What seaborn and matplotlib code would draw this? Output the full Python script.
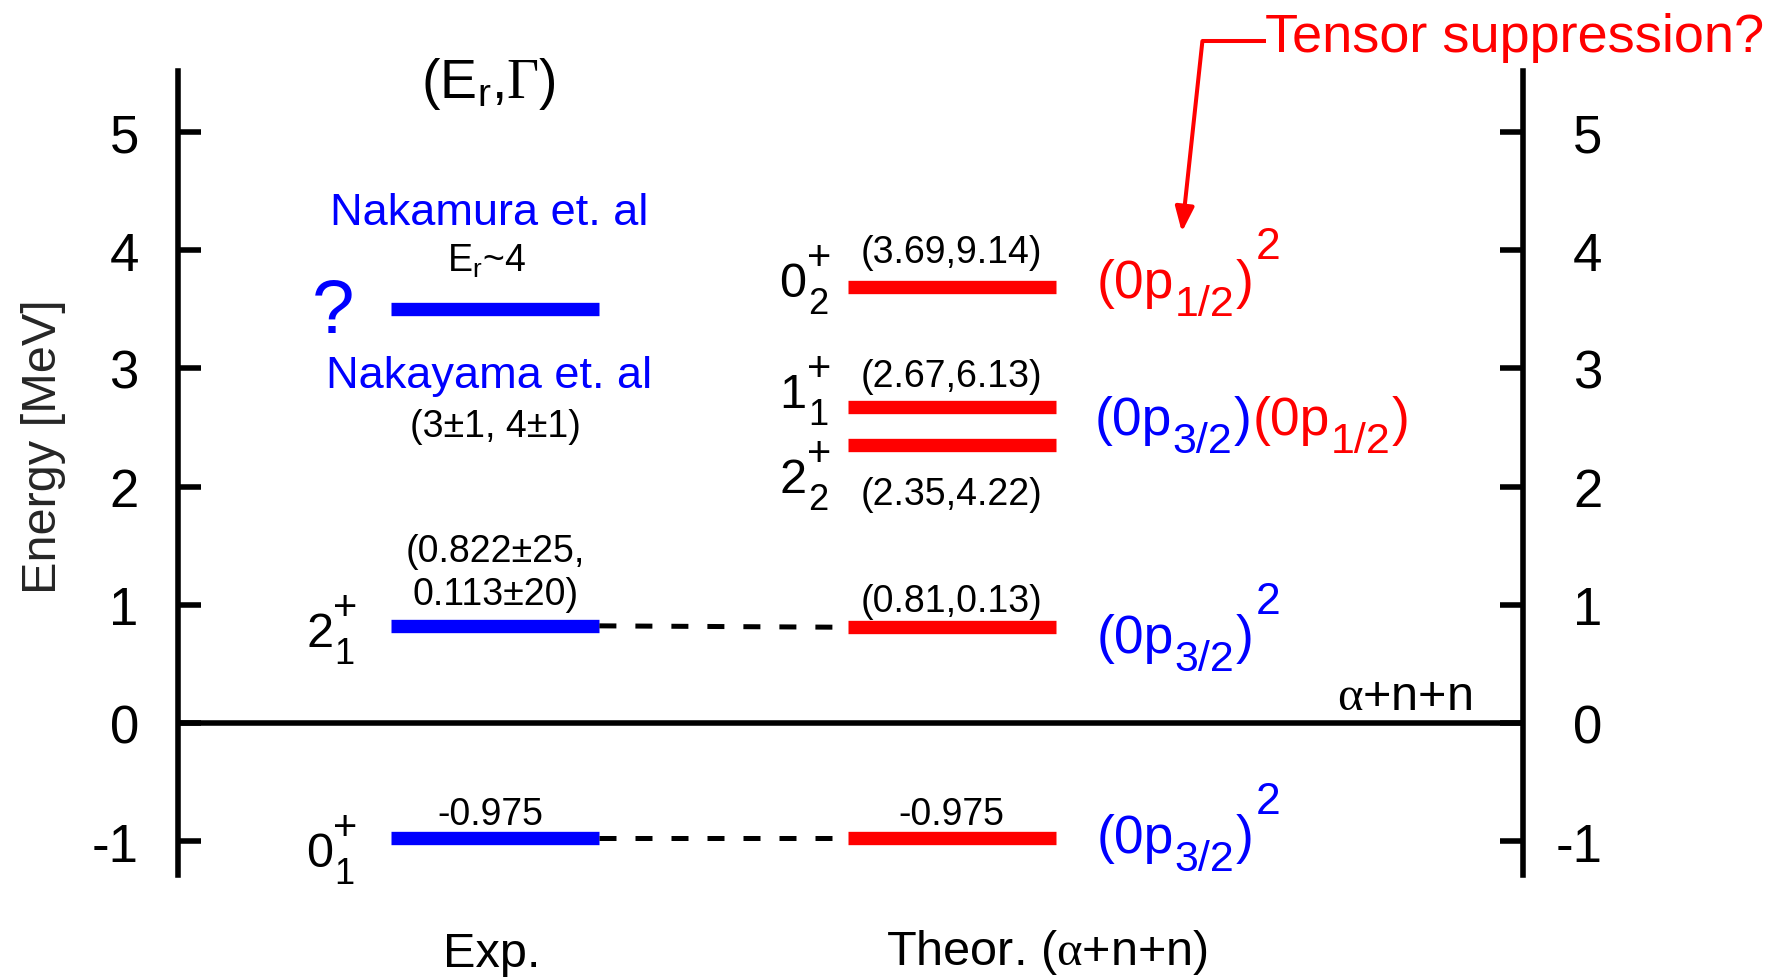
import numpy as np
import pandas as pd
import matplotlib
matplotlib.use("Agg")
import matplotlib.pyplot as plt
import seaborn as sns

# ---------------- data ----------------
exp_energies = [-0.975, 0.822, 3.5]
exp_spins = [("0", "1"), ("2", "1"), None]
exp_value_labels = ["-0.975", "(0.822±25,", "0.113±20)"]

theo_energies = [-0.975, 0.81, 2.35, 2.67, 3.69]
theo_widths = [None, 0.13, 4.22, 6.13, 9.14]
theo_spins = [None, None, ("2", "2"), ("1", "1"), ("0", "2")]

connect_pairs = [(0, 0), (1, 1)]  # exp index -> theory index

yticks = [-1, 0, 1, 2, 3, 4, 5]
ytick_labels = ["-1", "0", "1", "2", "3", "4", "5"]

# ---------------- style ----------------
sns.set_theme(style="white")
plt.rcParams["font.family"] = ["Liberation Sans", "DejaVu Sans"]
plt.rcParams.update({
    "mathtext.fontset": "custom",
    "mathtext.rm": "Liberation Sans",
    "mathtext.it": "Liberation Sans:italic",
    "mathtext.bf": "Liberation Sans:bold",
    "mathtext.sf": "Liberation Sans",
    "mathtext.cal": "Liberation Serif",
    "mathtext.default": "regular",
    "axes.unicode_minus": False,
})

BLUE = "#0000ff"
RED = "#ff0000"
EXP_X, THEO_X, HALF = 0.0, 1.0, 0.228
XLIM = (-0.695, 2.253)
YLIM = (-1.286, 5.52)

fig = plt.figure(figsize=(17.82, 9.78), dpi=100)
ax = fig.add_axes([0.1001, 0.1043, 0.7546, 0.8225])

# ---------------- level bars ----------------
rows = []
for i, E in enumerate(exp_energies):
    for x in (EXP_X - HALF, EXP_X + HALF):
        rows.append(dict(x=x, E=E, lvl=f"exp{i}", side="Exp."))
for i, E in enumerate(theo_energies):
    for x in (THEO_X - HALF, THEO_X + HALF):
        rows.append(dict(x=x, E=E, lvl=f"th{i}", side="Theor."))
levels = pd.DataFrame(rows)

sns.lineplot(data=levels, x="x", y="E", hue="side", units="lvl",
             estimator=None, sort=False, legend=False,
             palette={"Exp.": BLUE, "Theor.": RED},
             lw=9.6, solid_capstyle="butt", ax=ax)

# dashed connectors
crow = []
for k, (i, j) in enumerate(connect_pairs):
    crow.append(dict(x=EXP_X + HALF, E=exp_energies[i], pair=k))
    crow.append(dict(x=THEO_X - HALF, E=theo_energies[j], pair=k))
conn = pd.DataFrame(crow)
sns.lineplot(data=conn, x="x", y="E", units="pair", estimator=None, sort=False,
             color="black", lw=3.6, linestyle=(0, (3.4, 3.8)),
             dash_capstyle="butt", legend=False, ax=ax)

# threshold line
ax.axhline(0, color="black", lw=4.0, zorder=1)

# ---------------- axes ----------------
ax.set_xlim(*XLIM)
ax.set_ylim(*YLIM)
ax.set_xlabel("")
ax.set_ylabel("")
ax.set_xticks([])
for s in ("top", "bottom", "right"):
    ax.spines[s].set_visible(False)
ax.spines["left"].set_linewidth(4)
ax.spines["left"].set_color("black")
ax.set_yticks(yticks)
ax.set_yticklabels(ytick_labels)
ax.tick_params(axis="y", direction="in", length=16.5, width=4, colors="black",
               labelsize=38, pad=28.5, left=True, right=False,
               labelleft=True, labelright=False)

ax2 = ax.twinx()
ax2.set_ylim(*YLIM)
ax2.set_yticks(yticks)
ax2.set_yticklabels(ytick_labels)
for s in ("top", "bottom", "left"):
    ax2.spines[s].set_visible(False)
ax2.spines["right"].set_linewidth(4)
ax2.spines["right"].set_color("black")
ax2.tick_params(axis="y", direction="in", length=16.5, width=4, colors="black",
                labelsize=38, pad=57)
for lab in ax2.get_yticklabels():
    lab.set_horizontalalignment("right")
ax2.set_xticks([])

fig.text(0.0242, 0.543, "Energy [MeV]", rotation=90, fontsize=35,
         ha="center", va="center")


# ---------------- annotations ----------------
def txt(x, y, s, size, color="black", ha="center", va="baseline", **kw):
    return ax.text(x, y, s, fontsize=size, color=color, ha=ha, va=va,
                   clip_on=False, **kw)


def compose(x, y, segs):
    """segs: list of (text, size, dx_pt, dy_pt, color, anchor_index)."""
    arts = []
    for k, (s, size, dx, dy, color, anc) in enumerate(segs):
        if k == 0:
            a = ax.text(x, y, s, fontsize=size, color=color, ha="left",
                        va="baseline", clip_on=False)
        else:
            a = ax.annotate(s, xy=(1, y), xycoords=(arts[anc], "data"),
                            xytext=(dx, dy), textcoords="offset points",
                            fontsize=size, color=color, ha="left",
                            va="baseline", annotation_clip=False)
        arts.append(a)
    return arts


def spin(x, y, main, sub):
    compose(x, y, [(main, 35, 0, 0, "black", 0),
                   (sub, 26, 1.0, -12.5, "black", 0),
                   ("+", 30, 0.0, 19.5, "black", 0)])


def config(x, y, parts, sup=None):
    segs = []
    for frac, color in parts:
        segs.append(("(0p", 38.5, 1.0, 0, color, len(segs) - 1 if segs else 0))
        segs.append((frac, 31, 0.3, -13.0, color, len(segs) - 1))
        segs.append((")", 38.5, 0.8, 0, color, len(segs) - 1))
    if sup is not None:
        segs.append((sup[0], 32, 1.5, 28.0, sup[1], len(segs) - 1))
    compose(x, y, segs)


txt(-0.015, 5.296, r"$(E_r{,}\mathcal{\Gamma})$", 40)
txt(-0.014, 4.222, "Nakamura et. al", 32.5, BLUE)
txt(-0.02, 3.824, r"$E_r$~4", 27)
txt(-0.356, 3.308, "?", 55, BLUE)
txt(-0.014, 2.843, "Nakayama et. al", 32.5, BLUE)
txt(0.0, 2.428, "(3±1, 4±1)", 27)
txt(0.0, 1.371, exp_value_labels[1], 27)
txt(0.0, 1.007, exp_value_labels[2], 27)
txt(-0.012, -0.854, exp_value_labels[0], 27)

EXP_SPIN_X, THEO_SPIN_X = -0.415, 0.623
exp_spin_y = {0: -1.21, 1: 0.651}
for i, sp in enumerate(exp_spins):
    if sp is not None:
        spin(EXP_SPIN_X, exp_spin_y[i], *sp)

theo_spin_y = {2: 1.954, 3: 2.673, 4: 3.613}
for j, sp in enumerate(theo_spins):
    if sp is not None:
        spin(THEO_SPIN_X, theo_spin_y[j], *sp)

val_y = {0: -0.854, 1: 0.948, 2: 1.853, 3: 2.851, 4: 3.90}
for j, (E, G) in enumerate(zip(theo_energies, theo_widths)):
    lab = f"{E:.3f}" if G is None else f"({E:.2f},{G:.2f})"
    txt(1.0, val_y[j], lab, 27)

CX = 1.319
config(CX, 3.604, [("1/2", RED)], sup=("2", RED))
config(CX - 0.005, 2.445, [("3/2", BLUE), ("1/2", RED)])
config(CX, 0.60, [("3/2", BLUE)], sup=("2", BLUE))
config(CX, -1.09, [("3/2", BLUE)], sup=("2", BLUE))

txt(2.141, 0.118, r"$\mathcal{\alpha}$+n+n", 35, ha="right")
txt(-0.008, -2.056, "Exp.", 35)
txt(1.21, -2.04, r"Theor. ($\mathcal{\alpha}$+n+n)", 35)

txt(1.687, 5.685, "Tensor suppression?", 39, RED, ha="left")
ax.plot([1.69, 1.55], [5.77, 5.77], color=RED, lw=2.9, clip_on=False,
        solid_capstyle="butt")
ax.annotate("", xy=(1.505, 4.154), xytext=(1.55, 5.77),
            arrowprops=dict(arrowstyle="-|>,head_length=0.5,head_width=0.19",
                            color=RED, lw=2.9, mutation_scale=30,
                            shrinkA=0, shrinkB=0),
            annotation_clip=False)

fig.savefig("out.png", dpi=100)
